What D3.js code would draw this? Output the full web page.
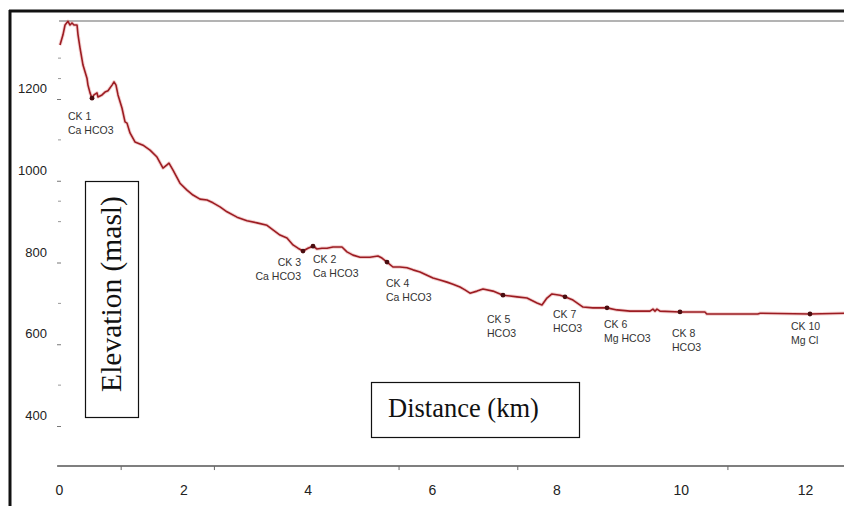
<!DOCTYPE html>
<html>
<head>
<meta charset="utf-8">
<script src="https://cdn.jsdelivr.net/npm/d3@7"></script>
<style>
  html, body { margin: 0; padding: 0; background: #fff; }
  svg { display: block; }
</style>
</head>
<body>
<svg id="chart" width="844" height="506"></svg>
<script>
// ---- data (distance km, elevation masl) ----
const distanceKm = [0.016,0.064,0.097,0.145,0.177,0.209,0.241,0.290,0.306,0.338,0.386,0.450,0.466,0.499,0.531,0.563,0.611,0.627,0.692,0.740,0.788,0.853,0.885,0.917,0.949,1.013,1.062,1.094,1.142,1.222,1.351,1.464,1.576,1.673,1.737,1.769,1.834,1.946,2.059,2.155,2.268,2.381,2.477,2.590,2.702,2.863,3.024,3.185,3.346,3.442,3.555,3.667,3.764,3.844,3.925,4.005,4.086,4.150,4.230,4.311,4.407,4.552,4.632,4.729,4.842,5.002,5.131,5.195,5.276,5.372,5.485,5.598,5.694,5.807,5.919,6.016,6.128,6.241,6.337,6.450,6.530,6.611,6.724,6.820,6.981,7.142,7.367,7.528,7.689,7.769,7.849,7.930,8.059,8.139,8.268,8.429,8.589,8.815,8.975,9.184,9.506,9.554,9.587,9.619,9.667,9.989,10.39,10.42,11.24,11.28,12.08,12.63];
const elevation = [1332,1357,1381,1390,1381,1386,1381,1381,1357,1325,1283,1251,1234,1215,1202,1210,1215,1205,1210,1217,1220,1234,1242,1234,1210,1178,1144,1141,1117,1095,1087,1075,1058,1031,1039,1043,1026,994,977,965,955,953,946,936,924,911,902,897,891,880,867,860,843,835,828,835,840,833,835,835,838,838,826,818,813,813,816,811,801,789,789,787,782,777,769,762,757,752,747,740,733,725,730,735,730,720,716,713,701,696,713,723,720,716,708,691,689,689,684,681,681,686,681,686,681,679,679,674,674,676,674,676];

const sampleNames = ["CK 1","CK 3","CK 2","CK 4","CK 5","CK 7","CK 6","CK 8","CK 10"];
const sampleTypes = ["Ca HCO3","Ca HCO3","Ca HCO3","Ca HCO3","HCO3","HCO3","Mg HCO3","HCO3","Mg Cl"];
const sampleKm = [0.531,3.925,4.086,5.276,7.142,8.139,8.815,9.989,12.08];
const sampleElev = [1202,828,840,801,720,716,689,679,674];

const xTicks = [0,2,4,6,8,10,12];
const xMinorTicks = [1.0,2.5,5.47,7.38,10.76];
const yTicks = [400,600,800,1000,1200];
const yMinorTicks = [500,700,900,950,1100,1250,1300];

const xLabel = "Distance (km)";
const yLabel = "Elevation (masl)";

// ---- scales ----
const x = d3.scaleLinear().domain([0,12]).range([59,805]);
const y = d3.scaleLinear().domain([400,1200]).range([426,99]);

const svg = d3.select("#chart");
const sansNarrow = "'Liberation Sans Narrow','Arial Narrow','Liberation Sans',Arial,sans-serif";
const serif = "'Liberation Serif','Times New Roman',serif";

// outer frame
svg.append("line").attr("x1",9).attr("x2",844).attr("y1",11).attr("y2",11)
  .attr("stroke","#111").attr("stroke-width",3);
svg.append("line").attr("x1",10).attr("x2",10).attr("y1",10).attr("y2",506)
  .attr("stroke","#111").attr("stroke-width",3);

// top gray line
svg.append("line").attr("x1",x(0)).attr("x2",844).attr("y1",y(1391)).attr("y2",y(1391))
  .attr("stroke","#9a9a9a").attr("stroke-width",1.5);

// x axis
const xAxisY = y(302);
const gx = svg.append("g").attr("transform",`translate(0,${xAxisY})`)
  .call(d3.axisBottom(x).tickValues(xTicks).tickSize(0).tickPadding(19).tickFormat(d3.format("d")));
gx.select(".domain").remove();
gx.append("line").attr("x1",x(-0.03)).attr("x2",844).attr("y1",0).attr("y2",0)
  .attr("stroke","#555").attr("stroke-width",1.4);
gx.selectAll(".tick text").attr("fill","#222").attr("font-size",14)
  .attr("font-family",sansNarrow);
gx.selectAll(".minor").data(xMinorTicks).enter().append("line")
  .attr("x1",d=>x(d)).attr("x2",d=>x(d)).attr("y1",0).attr("y2",4)
  .attr("stroke","#666").attr("stroke-width",1);

// y axis
const gy = svg.append("g").attr("transform",`translate(61,0)`)
  .call(d3.axisLeft(y).tickValues(yTicks).tickSize(4).tickPadding(10).tickFormat(d3.format("d")));
gy.select(".domain").remove();
gy.selectAll(".tick line").attr("stroke","#777");
gy.selectAll(".tick text").attr("fill","#222").attr("font-size",13).attr("dy","-0.5em")
  .attr("font-family",sansNarrow);
gy.selectAll(".minor").data(yMinorTicks).enter().append("line")
  .attr("x1",-3).attr("x2",0).attr("y1",d=>y(d)).attr("y2",d=>y(d))
  .attr("stroke","#999").attr("stroke-width",1);

// profile line
const pts = distanceKm.map((d,i)=>[d,elevation[i]]);
const line = d3.line().x(d=>x(d[0])).y(d=>y(d[1]));
svg.append("path").datum(pts).attr("d",line).attr("fill","none")
  .attr("stroke","rgba(220,120,120,0.35)").attr("stroke-width",3.5).attr("stroke-linejoin","round");
svg.append("path").datum(pts).attr("d",line).attr("fill","none")
  .attr("stroke","#9c1c22").attr("stroke-width",1.6).attr("stroke-linejoin","round");

// sample markers
svg.selectAll(".mk").data(sampleKm).enter().append("circle")
  .attr("cx",d=>x(d)).attr("cy",(d,i)=>y(sampleElev[i])).attr("r",2.4)
  .attr("fill","#4a0d10");

// sample labels (offsets in px, relative to marker)
const labelOffsets = [[-24,22,"start"],[-2,15,"end"],[0,17,"start"],[-1,25,"start"],[-16,28,"start"],[-12,21,"start"],[-3,20,"start"],[-8,25,"start"],[-19,16,"start"]];
const lbl = svg.selectAll(".lbl").data(sampleNames).enter().append("text")
  .attr("x",(d,i)=>x(sampleKm[i])+labelOffsets[i][0])
  .attr("y",(d,i)=>y(sampleElev[i])+labelOffsets[i][1])
  .attr("text-anchor",(d,i)=>labelOffsets[i][2])
  .attr("font-family",sansNarrow)
  .attr("font-size",10.5).attr("fill","#333");
lbl.append("tspan").attr("x",(d,i)=>x(sampleKm[i])+labelOffsets[i][0]).text(d=>d);
lbl.append("tspan").attr("x",(d,i)=>x(sampleKm[i])+labelOffsets[i][0]).attr("dy",14)
  .text((d,i)=>sampleTypes[i]);

// axis title boxes
svg.append("rect").attr("x",85.5).attr("y",181.5).attr("width",53).attr("height",236)
  .attr("fill","#fff").attr("stroke","#111").attr("stroke-width",1.2);
svg.append("text").attr("transform","translate(121,294) rotate(-90)")
  .attr("text-anchor","middle").attr("font-family",serif)
  .attr("font-size",29.5).attr("fill","#111").text(yLabel);

svg.append("rect").attr("x",371.5).attr("y",382.5).attr("width",208).attr("height",55)
  .attr("fill","#fff").attr("stroke","#111").attr("stroke-width",1.2);
svg.append("text").attr("x",388).attr("y",417)
  .attr("font-family",serif)
  .attr("font-size",26.5).attr("fill","#111").text(xLabel);
</script>
</body>
</html>
